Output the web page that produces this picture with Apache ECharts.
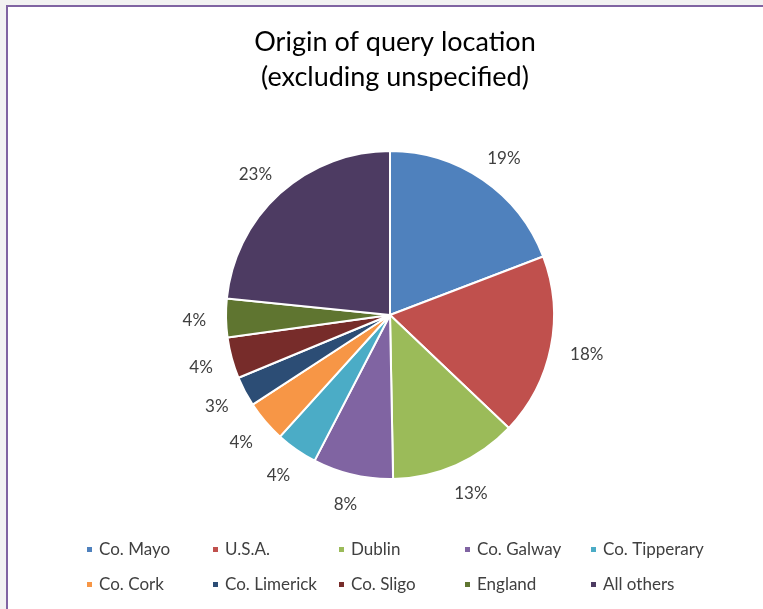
<!DOCTYPE html>
<html>
<head>
<meta charset="utf-8">
<script src="https://cdn.jsdelivr.net/npm/echarts@6/dist/echarts.min.js"></script>
<style>
  html, body { margin: 0; padding: 0; background: #f2f2f2; }
  .frame {
    position: absolute; left: 6px; top: 5px; width: 800px; height: 700px;
    background: #fff; border-left: 2px solid #8064a2; border-top: 2px solid #8064a2;
  }
  #chart { position: absolute; left: 0; top: 0; width: 763px; height: 609px; }
</style>
</head>
<body>
<div class="frame"></div>
<div id="chart"></div>
<script>
const categories = ['Co. Mayo', 'U.S.A.', 'Dublin', 'Co. Galway', 'Co. Tipperary',
  'Co. Cork', 'Co. Limerick', 'Co. Sligo', 'England', 'All others']
// shares in % (labels show them rounded)
const shares = [19.2, 17.9, 12.6, 7.9, 4.1, 4.1, 2.95, 4.05, 3.8, 23.4]
const colors = ['#4f81bd', '#c0504d', '#9bbb59', '#8064a2', '#4bacc6',
  '#f79646', '#2c4d75', '#772c2a', '#5f7530', '#4d3b62']

const total = shares.reduce((a, b) => a + b, 0)

const chart = echarts.init(document.getElementById('chart'))

// legend laid out as a 5 x 2 grid, one legend per entry
const legends = categories.map((name, i) => ({
  data: [name],
  left: 80 + (i % 5) * 126,
  top: i < 5 ? 536 : 571,
  icon: 'rect',
  itemWidth: 7,
  itemHeight: 7,
  itemGap: 0,
  selectedMode: false,
  textStyle: { fontFamily: 'Lato', fontSize: 17, color: '#404040', padding: [0, 0, 0, 1] }
}))

chart.setOption({
  animation: false,
  color: colors,
  title: {
    text: 'Origin of query location\n(excluding unspecified)',
    left: 390,
    textAlign: 'center',
    top: 20,
    textStyle: { fontFamily: 'Lato', fontSize: 27, fontWeight: 'normal', color: '#000', lineHeight: 35 }
  },
  legend: legends,
  series: [{
    type: 'pie',
    center: [390, 315],
    radius: 164,
    startAngle: 90,
    avoidLabelOverlap: false,
    itemStyle: { borderColor: '#fff', borderWidth: 2 },
    label: {
      position: 'outside',
      formatter: p => Math.round(p.value) + '%',
      fontFamily: 'Lato',
      fontSize: 17,
      color: '#404040',
      distanceToLabelLine: 0
    },
    labelLine: { show: false, length: 20, length2: 0 },
    // push each label out so its box just touches the leader end (Excel-like)
    labelLayout: p => {
      let acc = 0
      for (let j = 0; j < p.dataIndex; j++) acc += shares[j]
      const a = (acc + shares[p.dataIndex] / 2) / total * Math.PI * 2
      return {
        align: 'center',
        dx: p.labelRect.width / 2 * Math.sin(a),
        dy: -p.labelRect.height / 2 * Math.cos(a) + 2
      }
    },
    emphasis: { disabled: true },
    data: categories.map((name, i) => ({ name, value: shares[i] }))
  }]
})
</script>
</body>
</html>
